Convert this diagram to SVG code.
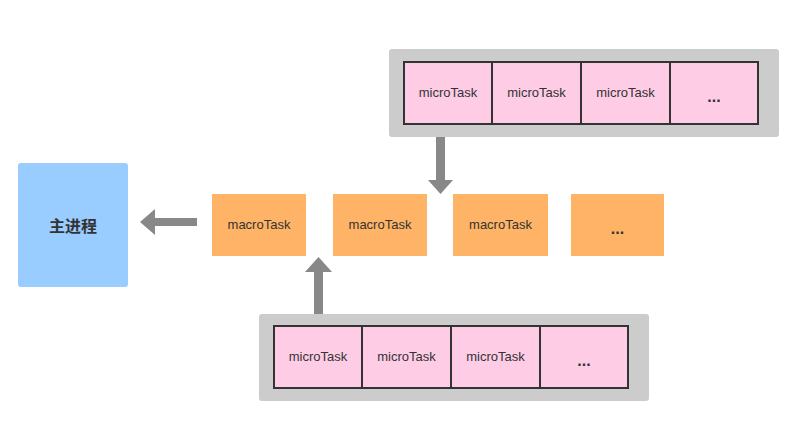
<svg xmlns="http://www.w3.org/2000/svg" width="800" height="425" viewBox="0 0 800 425">
<style>
.bg{fill:#ffffff}
.queue{fill:#cccccc}
.micro{fill:#ffcce6;stroke:#333333;stroke-width:2}
.macro{fill:#ffb366}
.main{fill:#99ccff}
.t{font-family:"Liberation Sans","DejaVu Sans",sans-serif;font-size:13px;fill:#333333;text-anchor:middle;dominant-baseline:central}
.dots{font-family:"Liberation Sans",sans-serif;font-size:16px;font-weight:bold;fill:#333333;text-anchor:middle;dominant-baseline:central}
.cn{font-family:"Noto Sans CJK SC",sans-serif;font-size:16px;font-weight:bold;fill:#333333;text-anchor:middle;dominant-baseline:central}
.arrow{fill:#888888}
</style>
<rect class="bg" width="800" height="425"/>
<g id="main-process">
<rect class="main" x="18" y="163" width="110" height="124" rx="3"/>
<text class="cn" x="73" y="225">主进程</text>
</g>
<g id="top-micro-queue">
<rect class="queue" x="389" y="49" width="390" height="88" rx="3"/>
<rect class="micro" x="404" y="62" width="88" height="62"/>
<rect class="micro" x="492" y="62" width="89" height="62"/>
<rect class="micro" x="581" y="62" width="89" height="62"/>
<rect class="micro" x="670" y="62" width="88" height="62"/>
<text class="t" x="448" y="92">microTask</text>
<text class="t" x="536.5" y="92">microTask</text>
<text class="t" x="625.5" y="92">microTask</text>
<text class="dots" x="714" y="96">...</text>
</g>
<g id="bottom-micro-queue">
<rect class="queue" x="259" y="314" width="390" height="87" rx="3"/>
<rect class="micro" x="274" y="326" width="88" height="62"/>
<rect class="micro" x="362" y="326" width="89" height="62"/>
<rect class="micro" x="451" y="326" width="89" height="62"/>
<rect class="micro" x="540" y="326" width="88" height="62"/>
<text class="t" x="318" y="356">microTask</text>
<text class="t" x="406.5" y="356">microTask</text>
<text class="t" x="495.5" y="356">microTask</text>
<text class="dots" x="584" y="360">...</text>
</g>
<g id="macro1">
<rect class="macro" x="212" y="194" width="94" height="62"/>
<text class="t" x="259" y="224">macroTask</text>
</g>
<g id="macro2">
<rect class="macro" x="333" y="194" width="94" height="62"/>
<text class="t" x="380" y="224">macroTask</text>
</g>
<g id="macro3">
<rect class="macro" x="453" y="194" width="95" height="62"/>
<text class="t" x="500.5" y="224">macroTask</text>
</g>
<g id="macro4">
<rect class="macro" x="571" y="194" width="93" height="62"/>
<text class="dots" x="617.5" y="228">...</text>
</g>
<g id="connectors">
<polygon class="arrow" points="197,218 155,218 155,209 140,222 155,235 155,226 197,226"/>
<polygon class="arrow" points="436,137 445,137 445,180 453,180 440.5,194 428,180 436,180"/>
<polygon class="arrow" points="314,314 323,314 323,272 332,272 318.5,257 305,272 314,272"/>
</g>
</svg>
